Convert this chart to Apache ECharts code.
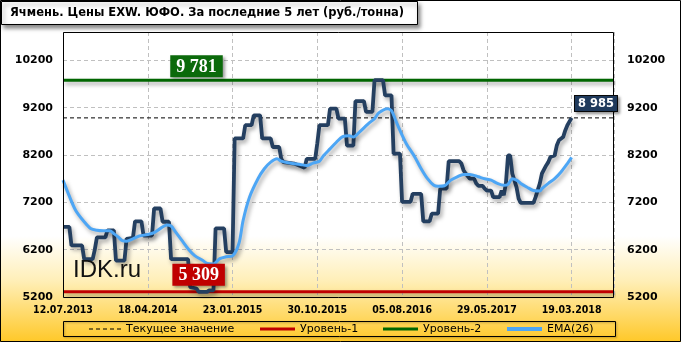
<!DOCTYPE html>
<html><head><meta charset="utf-8">
<script src="https://cdn.jsdelivr.net/npm/echarts@6/dist/echarts.min.js"></script>
<style>html,body{margin:0;padding:0;background:#fff}#c{width:681px;height:342px}</style>
</head><body><div id="c"></div>
<script>
// ---- data ----
const titleText = 'Ячмень. Цены EXW. ЮФО. За последние 5 лет (руб./тонна)';
const watermark = 'IDK.ru';
const tickLabels = ['12.07.2013','18.04.2014','23.01.2015','30.10.2015','05.08.2016','29.05.2017','19.03.2018'];
const seriesNames = ['Текущее значение','Уровень-1','Уровень-2','EMA(26)'];
const currentValue = 8985;
const level1 = 5309;
const level2 = 9781;
// weekly index (0 = 12.07.2013, 40 weeks between date labels)
const priceIdx = [0,3,4,9,10,14,15,16,20,21,24,25,29,30,33,34,37,38,42,43,46,47,50,51,59,60,63,64,68,69,71,72,76,77,80,81,85,86,89,90,93,94,98,99,102,103,104,109,114,115,119,120,121,125,126,129,130,133,134,137,138,142,143,146,147,151,152,155,156,159,160,164,165,169,170,173,174,177,178,181,182,187,188,189,190,192,194,195,196,198,199,200,202,203,206,207,208,209,210,211,212,214,215,216,222,223,225,226,228,229,230,232,233,234,236,237,238,240];
const priceVal = [6680,6680,6290,6290,6000,6000,6200,6460,6460,6610,6610,5970,5970,6430,6450,6800,6800,6500,6500,7070,7070,6790,6790,6000,6000,5410,5380,5309,5309,5340,5340,6650,6650,6150,6150,8550,8550,8830,8830,9040,9040,8550,8550,8370,8370,8120,8050,8020,7930,8120,8120,8450,8830,8830,9180,9180,8970,8970,8400,8400,9340,9340,9110,9110,9781,9781,9460,9460,8230,8230,7210,7210,7380,7380,6800,6800,6960,6960,7490,7490,8070,8070,8020,7880,7810,7700,7700,7600,7550,7550,7490,7450,7450,7310,7310,7450,7350,7600,8190,8190,7810,7520,7280,7190,7190,7310,7600,7810,7980,8050,8160,8190,8400,8510,8580,8720,8830,8985];
const emaIdx = [0,3,6,10,13,16,19,22,24,26,28,30,33,36,40,43,46,49,51,53,56,59,62,66,68,71,74,77,80,83,85,88,92,95,98,101,103,107,112,115,118,121,123,126,129,132,135,137,140,144,147,149,153,155,157,159,162,166,169,172,175,177,180,183,186,189,192,196,199,202,205,208,210,212,214,216,219,222,225,226,229,232,235,238,240];
const emaVal = [7670,7330,7030,6790,6650,6610,6600,6600,6540,6470,6390,6380,6430,6490,6520,6560,6650,6720,6700,6580,6400,6220,6080,5970,5910,5900,6010,6050,6070,6330,6820,7310,7700,7910,8050,8120,8070,8030,8000,7980,8030,8070,8190,8330,8470,8590,8610,8580,8690,8860,8970,9090,9180,9140,8930,8720,8440,8160,7910,7700,7560,7540,7550,7670,7740,7790,7790,7740,7700,7670,7600,7560,7580,7700,7670,7600,7520,7450,7440,7490,7600,7700,7840,8020,8150];

// ---- chart ----
const X_MAX = 260, X_STEP = 40;
const Y_MIN = 5200, Y_MAX = 10800, Y_STEP = 1000;
const zip = (a, b) => a.map((v, i) => [v, b[i]]);
const fmt = v => String(v).replace(/\B(?=(\d{3})+(?!\d))/g, ' ');
const FONT = "'DejaVu Sans', sans-serif";
const shadow = { shadowColor: 'rgba(0,0,0,0.35)', shadowBlur: 4, shadowOffsetX: 2, shadowOffsetY: 3 };
const G = { left: 63, top: 32, right: 67, bottom: 45 };

const chart = echarts.init(document.getElementById('c'), null, { renderer: 'canvas' });
const yAxisBase = {
  type: 'value', min: Y_MIN, max: Y_MAX, interval: Y_STEP,
  axisLine: { show: false }, axisTick: { show: false }
};
const labelBox = (x, v, bg, font, size, pad, dist, border) => ({
  value: [x, v],
  itemStyle: { opacity: 1 },
  label: {
    show: true, position: 'top', distance: dist, formatter: fmt(v), opacity: 1,
    color: '#fff', fontFamily: font, fontWeight: 'bold', fontSize: size,
    backgroundColor: bg, padding: pad, borderColor: border || bg, borderWidth: border ? 1 : 0,
    shadowColor: 'rgba(0,0,0,0.4)', shadowBlur: 3, shadowOffsetX: 2, shadowOffsetY: 2
  }
});
const dashIcon = 'path://M0,0h4v1h-4zM7,0h4v1h-4zM14,0h4v1h-4zM21,0h4v1h-4zM28,0h4v1h-4z';
const legendIcons = [
  { icon: dashIcon, w: 32, h: 1 },
  { icon: 'rect', w: 35, h: 3 },
  { icon: 'rect', w: 35, h: 3 },
  { icon: 'rect', w: 35, h: 4 }
];
const legendLeft = [89, 260, 383, 507];

chart.setOption({
  animation: false,
  grid: { left: G.left, top: G.top, right: G.right, bottom: G.bottom, show: false },
  xAxis: {
    type: 'value', min: 0, max: X_MAX, interval: X_STEP,
    axisLine: { show: false }, axisTick: { show: false },
    splitLine: { show: true, lineStyle: { color: '#C0C0C0', type: [4, 3], width: 1 } },
    axisLabel: {
      margin: 8, color: '#000', fontFamily: "'DejaVu Sans Condensed', 'DejaVu Sans', sans-serif",
      fontWeight: 'bold', fontSize: 10.5,
      formatter: v => (v % X_STEP === 0 && v / X_STEP < tickLabels.length) ? tickLabels[v / X_STEP] : ''
    }
  },
  yAxis: [
    Object.assign({}, yAxisBase, {
      position: 'left',
      splitLine: { show: true, lineStyle: { color: '#C0C0C0', type: [4, 3], width: 1 } },
      axisLabel: { margin: 10, color: '#000', fontFamily: FONT, fontWeight: 'bold', fontSize: 11,
        formatter: v => (v <= 10200 ? String(v) : '') }
    }),
    Object.assign({}, yAxisBase, {
      position: 'right', splitLine: { show: false },
      axisLabel: { margin: 13, color: '#000', fontFamily: FONT, fontWeight: 'bold', fontSize: 11,
        formatter: v => (v <= 10200 ? String(v) : '') }
    })
  ],
  legend: seriesNames.map((n, i) => ({
    data: [{ name: n, icon: legendIcons[i].icon }], left: legendLeft[i], top: 322,
    itemWidth: legendIcons[i].w, itemHeight: legendIcons[i].h, itemGap: 0, padding: 0,
    selectedMode: false, textStyle: { fontFamily: FONT, fontSize: 11, color: '#000', lineHeight: 14 }
  })),
  series: [
    { name: 'Цена', type: 'line', data: zip(priceIdx, priceVal), symbol: 'none', z: 3, silent: true,
      lineStyle: Object.assign({ color: '#243F60', width: 3.8 }, shadow) },
    { name: seriesNames[0], type: 'line', data: [[0, currentValue], [X_MAX, currentValue]], symbol: 'none', z: 2, silent: true,
      itemStyle: { color: '#000' }, lineStyle: { color: '#000', width: 1, type: [4, 3] } },
    { name: seriesNames[1], type: 'line', data: [[0, level1], [X_MAX, level1]], symbol: 'none', z: 2, silent: true,
      itemStyle: { color: '#C00000' }, lineStyle: Object.assign({ color: '#C00000', width: 3 }, shadow) },
    { name: seriesNames[2], type: 'line', data: [[0, level2], [X_MAX, level2]], symbol: 'none', z: 2, silent: true,
      itemStyle: { color: '#006600' }, lineStyle: Object.assign({ color: '#006600', width: 3 }, shadow) },
    { name: seriesNames[3], type: 'line', data: zip(emaIdx, emaVal), symbol: 'none', z: 4, silent: true, smooth: 0.3,
      itemStyle: { color: '#4DA6F5' }, lineStyle: Object.assign({ color: '#4DA6F5', width: 3 }, shadow) },
    { name: 'labels', type: 'scatter', symbolSize: 0, z: 70, silent: true, itemStyle: { opacity: 1 },
      data: [
        labelBox(63, level2, '#0B6A0B', "'Liberation Serif', serif", 18, [3, 6, 1, 6], 3),
        labelBox(64, level1, '#C00000', "'Liberation Serif', serif", 18, [3, 6, 1, 6], 6),
        labelBox(251.5, currentValue, '#1F3A5C', FONT, 11.5, [2, 3, 1, 3], 7, '#0a0a0a')
      ] }
  ],
  graphic: [
    { type: 'rect', z: -10, silent: true, shape: { x: 0, y: 0, width: 681, height: 342 },
      style: { fill: new echarts.graphic.LinearGradient(0, 0, 0, 1, [
        { offset: 0, color: '#FFFFFF' }, { offset: 0.69, color: '#FFFFFF' },
        { offset: 0.82, color: '#FFEFB8' }, { offset: 1, color: '#FFC828' }]) } },
    { type: 'rect', z: 50, silent: true, shape: { x: G.left + 0.5, y: G.top + 0.5, width: 681 - G.left - G.right - 1, height: 342 - G.top - G.bottom },
      style: { fill: null, stroke: '#000', lineWidth: 1 } },
    { type: 'text', z: 40, silent: true, left: 73, top: 258,
      style: { text: watermark, fontFamily: "'Liberation Sans', Arial, sans-serif", fontSize: 24, fill: '#111' } },
    { type: 'rect', z: 60, silent: true, shape: { x: 63.5, y: 321.5, width: 552, height: 15 },
      style: { fill: null, stroke: '#000', lineWidth: 1, shadowColor: 'rgba(0,0,0,0.3)', shadowBlur: 2, shadowOffsetX: 1, shadowOffsetY: 1 } },
    { type: 'rect', z: 60, silent: true, shape: { x: 1.5, y: 1.5, width: 416, height: 23 },
      style: { fill: '#fff', stroke: '#000', lineWidth: 1, shadowColor: 'rgba(0,0,0,0.45)', shadowBlur: 4, shadowOffsetX: 2, shadowOffsetY: 3 } },
    { type: 'text', z: 61, silent: true, left: 10, top: 7,
      style: { text: titleText, fontFamily: FONT, fontWeight: 'bold', fontSize: 11.5, fill: '#000' } },
    { type: 'rect', z: 100, silent: true, shape: { x: 0.5, y: 0.5, width: 680, height: 341 },
      style: { fill: null, stroke: '#000', lineWidth: 1 } }
  ]
});
</script>
</body></html>
